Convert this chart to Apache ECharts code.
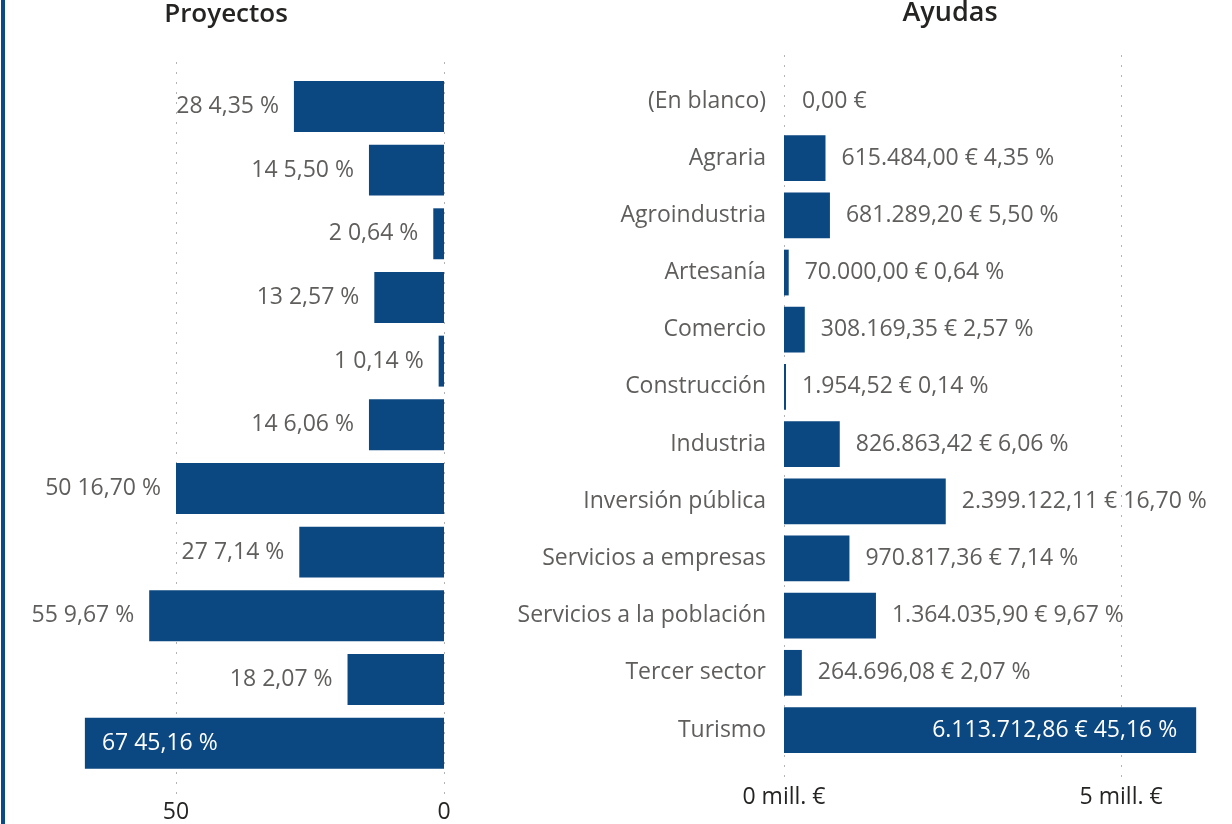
<!DOCTYPE html>
<html>
<head>
<meta charset="utf-8">
<script src="https://cdn.jsdelivr.net/npm/echarts@6/dist/echarts.min.js"></script>
<style>
  html, body { margin: 0; padding: 0; background: #fff; }
  #chart { width: 1232px; height: 824px; }
</style>
</head>
<body>
<div id="chart"></div>
<script>
// categorias (Ayudas tiene además "(En blanco)")
var sectores = ['Agraria', 'Agroindustria', 'Artesanía', 'Comercio', 'Construcción', 'Industria',
    'Inversión pública', 'Servicios a empresas', 'Servicios a la población', 'Tercer sector', 'Turismo'];
var sectoresAyudas = ['(En blanco)'].concat(sectores);

// proyectos por sector
var proyectos = [28, 14, 2, 13, 1, 14, 50, 27, 55, 18, 67];
var porcentajes = ['4,35', '5,50', '0,64', '2,57', '0,14', '6,06', '16,70', '7,14', '9,67', '2,07', '45,16'];

// ayudas en euros
var ayudas = [0, 615484.00, 681289.20, 70000.00, 308169.35, 1954.52, 826863.42,
    2399122.11, 970817.36, 1364035.90, 264696.08, 6113712.86];
var porcentajesAyudas = [null].concat(porcentajes);

var azul = '#0b4780';
var gris = '#605e5c';
var fuente = '"Open Sans", "Noto Sans", sans-serif';
var tam = 23;
var lineaPuntos = { type: [2, 8], color: '#b4b4b4', width: 1 };

// 1234567.8 -> 1.234.567,80 €
function formatoEuro(v) {
    var partes = v.toFixed(2).split('.');
    var entero = partes[0].replace(/\B(?=(\d{3})+(?!\d))/g, '.');
    return entero + ',' + partes[1] + ' €';
}

var datosProyectos = proyectos.map(function (v, i) {
    var item = { value: v };
    if (i === proyectos.length - 1) {
        item.label = { position: 'insideLeft', distance: 17, color: '#ffffff' };
    }
    return item;
});

var datosAyudas = ayudas.map(function (v, i) {
    var item = { value: v };
    if (v === 0) {
        item.itemStyle = { color: 'rgba(0,0,0,0)' };
    }
    if (i === ayudas.length - 1) {
        item.label = { position: 'insideRight', distance: 19, color: '#ffffff' };
    }
    return item;
});

var myChart = echarts.init(document.getElementById('chart'));
var option = {
    backgroundColor: '#ffffff',
    animation: false,
    title: [
        {
            text: 'Proyectos',
            left: 221, top: -3, textAlign: 'center',
            textStyle: { fontFamily: fuente, fontSize: 26, fontWeight: 600, color: '#252423' }
        },
        {
            text: 'Ayudas',
            left: 945, top: -5, textAlign: 'center',
            textStyle: { fontFamily: fuente, fontSize: 27, fontWeight: 600, color: '#252423' }
        }
    ],
    graphic: [
        { type: 'rect', shape: { x: 1, y: 0, width: 4, height: 824 }, style: { fill: '#0a4a87' } }
    ],
    grid: [
        { left: 68.8, right: 788, top: 74.6, bottom: 48.6 },
        { left: 784, right: 30, top: 72.4, bottom: 65.4 },
        // solo para las líneas de puntos
        { left: 68.8, right: 788, top: 62, bottom: 29 },
        { left: 784, right: 30, top: 55, bottom: 47 }
    ],
    xAxis: [
        {
            gridIndex: 0, type: 'value', inverse: true,
            min: 0, max: 70, interval: 50,
            axisLine: { show: false }, axisTick: { show: false },
            axisLabel: { showMaxLabel: false, margin: 26, color: '#252423', fontSize: tam, fontFamily: fuente },
            splitLine: { show: false }
        },
        {
            gridIndex: 1, type: 'value',
            min: 0, max: 6200000, interval: 5000000,
            axisLine: { show: false }, axisTick: { show: false },
            axisLabel: {
                showMaxLabel: false, margin: 27, color: '#252423', fontSize: tam, fontFamily: fuente,
                formatter: function (v) { return (v / 1000000) + ' mill. €'; }
            },
            splitLine: { show: false }
        },
        {
            gridIndex: 2, type: 'value', inverse: true,
            min: 0, max: 70, interval: 50,
            axisLine: { show: false }, axisTick: { show: false }, axisLabel: { show: false },
            splitLine: { showMaxLine: false, lineStyle: lineaPuntos }
        },
        {
            gridIndex: 3, type: 'value',
            min: 0, max: 6200000, interval: 5000000,
            axisLine: { show: false }, axisTick: { show: false }, axisLabel: { show: false },
            splitLine: { showMaxLine: false, lineStyle: lineaPuntos }
        }
    ],
    yAxis: [
        {
            gridIndex: 0, type: 'category', inverse: true, data: sectores,
            axisLine: { show: false }, axisTick: { show: false }, axisLabel: { show: false }
        },
        {
            gridIndex: 1, type: 'category', inverse: true, data: sectoresAyudas,
            axisLine: { show: false }, axisTick: { show: false },
            axisLabel: { margin: 18, color: gris, fontSize: tam, fontFamily: fuente }
        },
        {
            gridIndex: 2, type: 'value', show: false, splitLine: { show: false }
        },
        {
            gridIndex: 3, type: 'value', show: false, splitLine: { show: false }
        }
    ],
    series: [
        {
            name: 'Proyectos', type: 'bar',
            xAxisIndex: 0, yAxisIndex: 0,
            barCategoryGap: '20%',
            itemStyle: { color: azul },
            label: {
                show: true, position: 'left', distance: 15,
                color: gris, fontSize: tam, fontFamily: fuente,
                formatter: function (p) { return p.value + ' ' + porcentajes[p.dataIndex] + ' %'; }
            },
            data: datosProyectos
        },
        {
            name: 'Ayudas', type: 'bar',
            xAxisIndex: 1, yAxisIndex: 1,
            barCategoryGap: '20%',
            barMinHeight: 2,
            itemStyle: { color: azul },
            label: {
                show: true, position: 'right', distance: 16,
                color: gris, fontSize: tam, fontFamily: fuente,
                formatter: function (p) {
                    var pct = porcentajesAyudas[p.dataIndex];
                    return formatoEuro(p.value) + (pct ? ' ' + pct + ' %' : '');
                }
            },
            data: datosAyudas
        }
    ]
};
myChart.setOption(option);
</script>
</body>
</html>
